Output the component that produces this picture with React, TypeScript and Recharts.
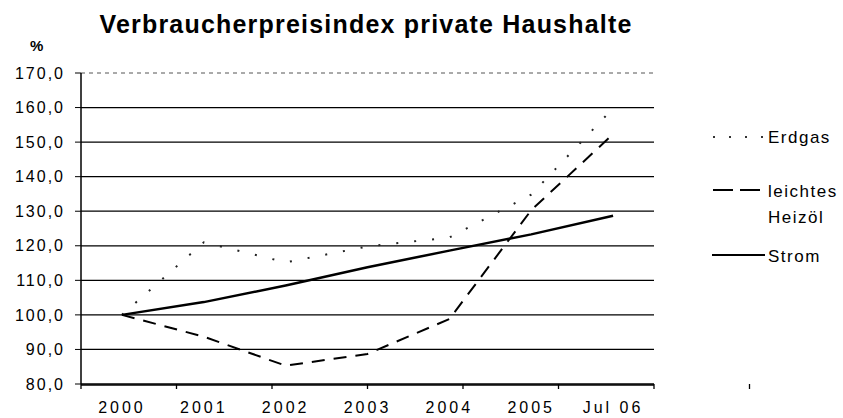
import React from "react";
import {
  LineChart,
  Line,
  XAxis,
  YAxis,
  CartesianGrid,
  ReferenceLine,
} from "recharts";

const years = ["2000", "2001", "2002", "2003", "2004", "2005", "Jul 06"];
const erdgas = [100, 121, 115.2, 119.8, 122.4, 134.8, 159.8];
const heizoel = [100, 93.7, 85.3, 88.7, 98.8, 130.3, 152.3];
const strom = [100, 103.7, 108.5, 113.8, 118.6, 123.3, 128.7];
const yTicks = [80, 90, 100, 110, 120, 130, 140, 150, 160, 170];
const edgeTicks = [0, 1, 2, 3, 4, 5, 6, 7];

const data = years.map((year, i) => ({
  year,
  erdgas: erdgas[i],
  heizoel: heizoel[i],
  strom: strom[i],
}));

const font = "'Liberation Sans', Arial, sans-serif";

// axis 0: tick marks between the years, axis 1: year labels + lines
const EDGE = 0;
const CAT = 1;

const NoLabel = () => <g />;

export default function App() {
  return (
    <div
      style={{
        position: "absolute",
        left: 0,
        top: 0,
        width: 843,
        height: 418,
        background: "#fff",
        fontFamily: font,
      }}
    >
      <LineChart
        width={843}
        height={418}
        data={data}
        margin={{ top: 73, right: 189, bottom: 0, left: 0 }}
      >
        <CartesianGrid
          xAxisId={CAT}
          vertical={false}
          stroke="#000"
          strokeWidth={1.3}
        />
        <XAxis
          xAxisId={EDGE}
          type="number"
          domain={[0, 7]}
          ticks={edgeTicks}
          padding={{ left: 0, right: 0 }}
          height={1}
          tick={NoLabel}
          tickSize={5}
          tickLine={{ stroke: "#000", strokeWidth: 1.3 }}
          axisLine={false}
        />
        <XAxis
          xAxisId={CAT}
          dataKey="year"
          scale="band"
          height={33}
          tickLine={false}
          tickSize={0}
          tickMargin={17}
          axisLine={{ stroke: "#000", strokeWidth: 1.3 }}
          tick={{ fontSize: 16, fill: "#000", letterSpacing: 3 }}
          interval={0}
        />
        <YAxis
          domain={[80, 170]}
          ticks={yTicks}
          width={81}
          tickSize={6}
          tickMargin={10}
          tickLine={{ stroke: "#000" }}
          axisLine={{ stroke: "#000", strokeWidth: 1.5 }}
          tick={{ fontSize: 16, fill: "#000", letterSpacing: 2 }}
          tickFormatter={(v) => Number(v).toFixed(1).replace(".", ",")}
        />
        <ReferenceLine xAxisId={CAT} y={170} stroke="#fff" strokeWidth={3} />
        <ReferenceLine
          xAxisId={CAT}
          y={170}
          stroke="#555"
          strokeDasharray="4 4"
        />
        <ReferenceLine
          xAxisId={EDGE}
          x={7}
          stroke="#777"
          strokeDasharray="2 3"
        />
        <Line
          xAxisId={CAT}
          dataKey="erdgas"
          stroke="#222"
          strokeWidth={2}
          strokeDasharray="2 16"
          dot={false}
          isAnimationActive={false}
        />
        <Line
          xAxisId={CAT}
          dataKey="heizoel"
          stroke="#000"
          strokeWidth={2}
          strokeDasharray="13 9"
          dot={false}
          isAnimationActive={false}
        />
        <Line
          xAxisId={CAT}
          dataKey="strom"
          stroke="#000"
          strokeWidth={2.5}
          dot={false}
          isAnimationActive={false}
        />
      </LineChart>

      <svg
        width={843}
        height={418}
        style={{ position: "absolute", left: 0, top: 0, pointerEvents: "none" }}
        fontFamily={font}
      >
        <text
          x={366}
          y={33}
          textAnchor="middle"
          fontSize={25}
          fontWeight="bold"
          letterSpacing={1.2}
        >
          Verbraucherpreisindex private Haushalte
        </text>
        <text x={30} y={51} fontSize={15} fontWeight="bold" letterSpacing={1}>
          %
        </text>

        <line x1={713} x2={765} y1={137} y2={137} stroke="#333" strokeWidth={2} strokeDasharray="2 14" />
        <text x={768} y={143} fontSize={17} letterSpacing={1.5}>
          Erdgas
        </text>

        <line x1={713} x2={765} y1={190} y2={190} stroke="#000" strokeWidth={2} strokeDasharray="20 7" />
        <text x={768} y={197} fontSize={17} letterSpacing={1.5}>
          leichtes
        </text>
        <text x={768} y={223} fontSize={17} letterSpacing={1.5}>
          Heizöl
        </text>

        <line x1={712} x2={765} y1={255} y2={255} stroke="#000" strokeWidth={2} />
        <text x={768} y={262} fontSize={17} letterSpacing={1.5}>
          Strom
        </text>
      </svg>
    </div>
  );
}
